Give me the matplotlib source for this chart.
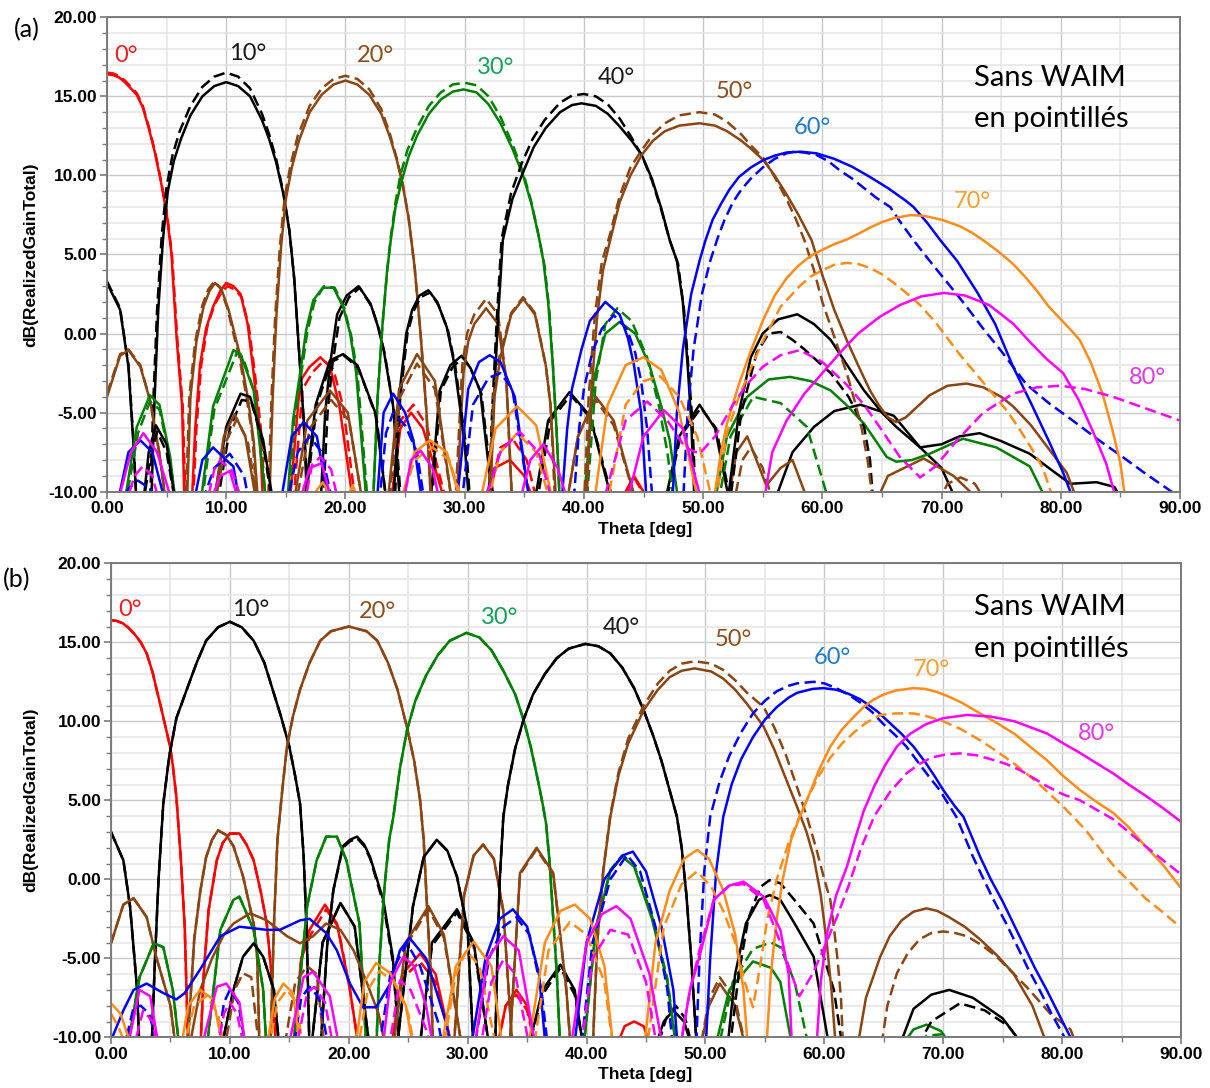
import matplotlib
matplotlib.use("Agg")
import matplotlib.pyplot as plt
from matplotlib.ticker import MultipleLocator, FormatStrFormatter

W, H = 1210, 1088

RED = "#ff0000"
BLACK = "#000000"
BROWN = "#8b4513"
GREEN = "#008000"
BLUE = "#0000ff"
ORANGE = "#ff8c1a"
MAGENTA = "#ff00ff"

STEER = ["0°", "10°", "20°", "30°", "40°", "50°", "60°", "70°", "80°"]
LINE_COLORS = [RED, BLACK, BROWN, GREEN, BLACK, BROWN, BLUE, ORANGE, MAGENTA]
LABEL_COLORS = ["#ee1c24", "#1a1a1a", "#8c4f1c", "#14a05a", "#1a1a1a",
                "#8c4f1c", "#1f7ac8", "#f5a030", "#e437e4"]

# ---- panel (a) : (theta deg, dB); -11 = below the axis ----
A00_S = [(0, 16.4), (0.5, 16.35), (1, 16.2), (1.5, 15.9), (2, 15.5), (2.5, 15.1), (3, 14.3), (3.5, 13), (4, 11.5), (4.5, 9.7), (5, 7.6), (5.4, 5.1), (5.85, -0.4), (6.3, -4.6), (6.5, -11),
         (7.1, -11), (7.4, -6), (7.8, -2), (8.3, 0.3), (8.9, 1.7), (9.5, 2.7), (10, 3.2), (10.6, 3.0), (11.2, 2.5), (11.8, 0.6), (12.3, -2.5), (12.8, -6), (13.1, -11),
         (15.3, -11), (16.2, -3), (17, -2.1), (17.9, -1.5), (18.7, -2.1), (19.5, -4.6), (20.7, -11),
         (23.8, -11), (24.6, -6), (25.5, -5.0), (26.5, -6), (28.5, -11),
         (31.5, -11), (32.5, -8.5), (33.8, -8.0), (35, -9), (36, -11),
         (42.8, -11), (44.2, -9.0), (45.8, -11)]
A00_D = [(0, 16.5), (0.5, 16.45), (1, 16.3), (1.5, 16), (2, 15.6), (2.5, 15.2), (3, 14.4), (3.5, 13.1), (4, 11.6), (4.5, 9.8), (5, 7.8), (5.45, 5), (5.9, -0.4), (6.35, -4.6), (6.6, -11),
         (7.2, -11), (7.5, -6), (7.9, -2), (8.4, 0.4), (9, 1.8), (9.6, 2.6), (10.1, 3.0), (10.7, 2.8), (11.3, 2.3), (11.9, 0.4), (12.4, -2.5), (12.9, -6), (13.3, -11),
         (15.6, -11), (16.4, -3.5), (17.3, -2.4), (18.2, -1.7), (19, -2.3), (19.8, -4.6), (20.9, -11),
         (23.8, -11), (24.6, -5.5), (25.7, -4.5), (26.8, -5.8), (28.6, -11),
         (31.8, -11), (33, -7.2), (34.1, -6.75), (35.2, -8), (36.2, -11),
         (43, -11), (44.3, -9.2), (45.6, -11)]
A10_S = [(0, 3.2), (1.1, 1.5), (1.8, -2.1), (2.2, -6.8), (2.5, -11),
         (3.7, -11), (4.0, -4), (4.3, 1.5), (4.7, 6), (5.1, 9), (5.6, 10.9), (6.2, 12.3), (7, 13.8), (8, 15), (9, 15.65), (10, 15.9), (11, 15.65), (12, 15.0), (13, 13.5), (13.6, 12.3), (14.2, 10.8), (14.8, 8.8), (15.3, 6.5), (15.7, 3.5), (16.1, -1), (16.5, -5.5), (16.8, -11),
         (17.9, -11), (18.3, -5), (18.7, -2), (19.3, 1.2), (20.1, 2.4), (21.1, 3.0), (22.1, 1.9), (22.7, 0.5), (23.2, -1), (24, -4.6), (24.6, -11),
         (27.1, -11), (27.9, -3.6), (28.8, -2), (29.75, -1.4), (30.5, -2.2), (31.3, -3.6), (32.4, -11),
         (35.8, -11), (37, -5.5), (38.8, -3.7), (40.5, -5.2), (42.5, -11),
         (46.7, -11), (48, -6.5), (49.7, -4.5), (51, -6), (52.3, -11),
         (55.8, -11), (57.5, -7.5), (59.3, -5.9), (61, -4.9), (63.2, -4.5), (66, -5.2), (68.2, -7.2), (70, -8.5), (71.5, -11)]
A10_D = [(0, 3.3), (1.1, 1.6), (1.8, -2), (2.2, -6.5), (2.5, -11),
         (3.6, -11), (3.9, -4), (4.2, 1.5), (4.6, 6.3), (5.0, 9.3), (5.5, 11.3), (6.1, 12.8), (7, 14.4), (8, 15.6), (9, 16.25), (10, 16.5), (11, 16.25), (12, 15.5), (13, 13.9), (13.6, 12.6), (14.2, 11), (14.8, 8.9), (15.3, 6.5), (15.7, 3.5), (16.1, -1), (16.5, -5.5), (16.9, -11),
         (18.1, -11), (18.5, -5), (18.9, -2), (19.5, 1), (20.3, 2.3), (21.2, 2.9), (22.2, 1.7), (22.8, 0.3), (23.3, -1.3), (24.1, -5), (24.7, -11),
         (27.2, -11), (28, -3.6), (29, -2.1), (29.9, -1.5), (30.6, -2.4), (31.4, -3.8), (32.5, -11),
         (36, -11), (37.2, -5.5), (38.9, -3.9), (40.6, -5.4), (42.6, -11),
         (46.8, -11), (48.1, -6.5), (49.8, -4.7), (51.1, -6), (52.4, -11)]
A20_S = [(0, -4.0), (1.1, -1.4), (1.8, -1.05), (2.8, -2.1), (3.6, -4.2), (4.4, -7.6), (5, -11),
         (6.7, -11), (7, -4), (7.5, -0.5), (8.1, 1.7), (8.6, 2.7), (9.06, 3.2), (9.6, 2.8), (10.2, 1.5), (10.7, 0), (11.2, -1.5), (11.8, -4), (12.3, -6.75), (12.7, -11),
         (13.6, -11), (13.9, -4), (14.2, 1), (14.6, 5.5), (15, 8.5), (15.5, 10.5), (16.1, 12.2), (17, 14), (18, 15.1), (19, 15.75), (20, 16.0), (21, 15.75), (22, 15.1), (23, 13.9), (23.7, 12.5), (24.3, 11), (24.8, 9.4), (25.3, 7.3), (25.8, 4.2), (26.3, 0), (26.8, -5), (27.2, -11),
         (29.3, -11), (29.9, -2.5), (30.3, -0.5), (30.8, 0.6), (31.8, 1.6), (32.8, 0.6), (33.5, -3), (34, -11),
         (38.5, -11), (39.5, -6.5), (41, -4.0), (42.5, -5.5), (44.5, -11),
         (52, -11), (52.8, -7.5), (53.7, -6.5), (55.3, -9.6), (56.5, -8.5), (57.5, -8), (59, -11),
         (64.3, -11), (65.5, -9), (68.5, -7.9), (71, -9), (73.8, -11)]
A20_D = [(0, -3.8), (1.1, -1.3), (1.8, -1.0), (2.8, -2.0), (3.6, -4.2), (4.4, -7.6), (5, -11),
         (6.6, -11), (6.9, -4), (7.4, -0.5), (8, 1.8), (8.5, 2.8), (9, 3.3), (9.5, 2.9), (10.1, 1.6), (10.6, 0), (11.1, -1.5), (11.7, -4), (12.2, -6.5), (12.6, -11),
         (13.5, -11), (13.8, -4), (14.1, 1), (14.5, 5.5), (14.9, 8.6), (15.4, 10.7), (16, 12.5), (17, 14.4), (18, 15.5), (19, 16.1), (20, 16.3), (21, 16.1), (22, 15.45), (23, 14.2), (23.7, 12.7), (24.3, 11.1), (24.8, 9.5), (25.3, 7.3), (25.8, 4.2), (26.3, 0), (26.8, -5), (27.2, -11),
         (29.2, -11), (29.8, -2), (30.2, 0), (30.8, 1.2), (31.8, 2.2), (32.8, 1.2), (33.5, -3), (34, -11),
         (38.5, -11), (39.5, -6.5), (41, -4.2), (42.5, -5.8), (44.5, -11),
         (52.5, -11), (53.3, -8), (54, -7.2), (55, -8.5), (56, -11)]
A30_S = [(1.4, -11), (2.5, -5.9), (3.6, -3.9), (4.4, -4.5), (5.3, -7.8), (5.8, -11),
         (7.8, -11), (8.9, -4.6), (10.6, -1.05), (11.2, -1.3), (12.3, -3.6), (13.4, -11),
         (15.1, -11), (15.6, -5.5), (16.2, -2.5), (16.7, 0.2), (17.3, 2.1), (18.1, 2.9), (19, 2.9), (19.8, 1.7), (20.4, 0), (20.9, -2.5), (21.8, -11),
         (22.3, -11), (22.7, -4), (23.1, 0.5), (23.5, 4), (23.8, 5.9), (24.2, 8), (24.7, 9.6), (25.3, 11.2), (26, 12.5), (27, 13.9), (28, 14.8), (29, 15.3), (29.9, 15.44), (31, 15.25), (32, 14.5), (33, 13.3), (34, 11.7), (34.9, 10), (35.6, 8.2), (36.2, 6.2), (36.6, 4.6), (37, 2), (37.4, -2), (37.7, -6), (38, -11),
         (40, -11), (40.8, -3), (41.8, 0), (43, 0.74), (44.3, 0), (45.5, -2), (46.5, -4.6), (47.2, -6.75), (48, -11),
         (50.9, -11), (52, -6.5), (53.7, -4.0), (55.5, -2.9), (57.3, -2.74), (59, -3), (60.7, -3.6), (62, -4.5), (63.5, -5.7), (65.4, -7.8), (66.2, -8.1), (67.5, -8), (69, -7.6), (71.8, -6.65), (74.6, -7.2), (77.4, -8.4), (79.1, -11)]
A30_D = [(1.5, -11), (2.6, -6.3), (3.6, -4.3), (4.4, -4.8), (5.3, -8), (5.8, -11),
         (7.9, -11), (9, -4.8), (10.9, -1.2), (11.4, -1.5), (12.4, -3.8), (13.4, -11),
         (15.2, -11), (15.7, -5.5), (16.3, -2.5), (16.8, 0.1), (17.4, 2), (18.2, 3.0), (19.1, 2.9), (19.9, 1.6), (20.5, -0.2), (21, -2.5), (21.9, -11),
         (22.3, -11), (22.7, -4), (23.1, 0.5), (23.5, 4), (23.8, 6.1), (24.2, 8.3), (24.6, 10), (25.2, 11.6), (26, 13), (27, 14.4), (28, 15.25), (29, 15.75), (30, 15.86), (31, 15.7), (32, 15), (33, 13.7), (34, 12), (34.9, 10.2), (35.6, 8.3), (36.2, 6.2), (36.7, 4.3), (37.1, 1.5), (37.4, -2), (37.7, -6), (38, -11),
         (40.2, -11), (41, -3), (41.8, 0.6), (42.8, 1.6), (44, 0.8), (45.3, -1.5), (46.3, -4.6), (47, -7.5), (47.6, -11),
         (51.2, -11), (52.3, -6.5), (54.2, -4.0), (56.5, -4.4), (58.7, -5.9), (60.7, -11)]
A40_S = [(3, -11), (3.5, -7.5), (4.1, -5.8), (5, -7), (5.8, -11),
         (8.9, -11), (10, -5.9), (11.2, -3.8), (12, -4.0), (13.1, -6.75), (14, -11),
         (16.5, -11), (17.5, -4.5), (18.7, -1.7), (19.8, -1.3), (21, -2), (22.5, -5), (23.5, -11),
         (24, -11), (24.5, -4), (25.1, 0), (25.6, 1.5), (26.2, 2.4), (26.95, 2.74), (27.7, 2), (28.5, 0.4), (29.1, -1.8), (29.6, -4.6), (30, -7), (30.4, -11),
         (32.1, -11), (32.4, -5), (32.8, 1), (33.2, 5.9), (34, 8.5), (34.9, 10.2), (35.8, 11.8), (36.8, 13), (38, 14), (39, 14.45), (39.8, 14.56), (41, 14.4), (42, 13.9), (43, 13.1), (44, 12.2), (44.85, 11.3), (45.7, 9.8), (46.5, 7.9), (47.2, 5.9), (47.8, 4.6), (48.3, 2), (48.7, -2), (49, -5.5), (49.3, -11),
         (52, -11), (53, -5), (54, -1.5), (55, 0), (56.3, 0.9), (57.9, 1.22), (59.3, 0.6), (60.7, -0.4), (62, -1.9), (63.5, -3.6), (65, -5), (66.2, -5.9), (68.2, -7.2), (70, -7), (71.5, -6.5), (73.2, -6.3), (75, -6.8), (77.4, -7.6), (79, -8.5), (80.8, -9.5), (83, -9.4), (84.5, -9.7), (85.5, -11)]
A40_D = [(3, -11), (3.6, -8), (4.2, -6.2), (5, -7.5), (5.8, -11),
         (9.2, -11), (10.3, -6), (11.3, -4.2), (12.1, -4.3), (13.1, -7), (13.9, -11),
         (16.6, -11), (17.6, -4.5), (18.8, -1.8), (19.9, -1.4), (21.1, -2.2), (22.6, -5.3), (23.5, -11),
         (24.1, -11), (24.6, -4), (25.2, 0), (25.7, 1.4), (26.3, 2.3), (27.1, 2.6), (27.8, 1.8), (28.6, 0.2), (29.2, -2), (29.7, -4.8), (30.1, -7), (30.5, -11),
         (32, -11), (32.3, -5), (32.7, 1), (33.1, 6), (33.9, 8.9), (34.8, 10.8), (35.7, 12.3), (36.7, 13.5), (38, 14.6), (39, 15.05), (40, 15.15), (41, 15), (42, 14.5), (43, 13.6), (44, 12.4), (44.9, 11.2), (45.7, 9.7), (46.5, 7.8), (47.2, 5.9), (47.9, 4.4), (48.4, 1.5), (48.8, -2.5), (49.1, -5.5), (49.4, -11),
         (52.2, -11), (53.2, -5), (54.5, -1.2), (55.5, 0), (56.5, 0.1), (57.5, -0.4), (58.5, -1), (60.7, -2.5), (62.2, -4), (63.5, -5.9), (64, -8), (64.3, -11)]
A50_S = [(8.9, -11), (9.8, -6.5), (10.7, -5.1), (11.6, -6.5), (12.6, -11),
         (15.6, -11), (16.8, -5.5), (18.7, -3.6), (20.2, -5), (21.5, -11),
         (23.5, -11), (24.5, -3.5), (26, -1.3), (27.5, -3), (29, -11),
         (32.1, -11), (32.5, -4), (33, -1.5), (33.9, 1.2), (34.9, 2.2), (35.9, 1.2), (36.8, -2), (37.2, -4.5), (37.7, -11),
         (40.2, -11), (40.6, -4), (41.1, 1), (41.6, 4), (42.2, 5.9), (43, 8.3), (43.9, 10), (44.85, 11.3), (45.8, 12.2), (46.8, 12.8), (48, 13.15), (49.7, 13.3), (51, 13.15), (52, 12.8), (53.2, 12.2), (54, 11.7), (55.05, 10.97), (56, 10), (57, 8.8), (58, 7.5), (59.1, 5.9), (60, 3.7), (61, 1.5), (62.05, -0.42), (63, -2), (64, -3.6), (64.8, -4.6), (65.5, -5.3), (66.2, -5.6), (67, -5.3), (68, -4.6), (69, -3.9), (70.5, -3.3), (72.1, -3.16), (73.5, -3.4), (75, -4), (76, -4.6), (77.5, -5.8), (79, -7.3), (80.5, -8.8), (81.6, -11)]
A50_D = [(9, -11), (10, -6.8), (10.9, -5.4), (11.8, -6.8), (12.7, -11),
         (15.8, -11), (17, -6), (18.8, -4.2), (20.3, -5.5), (21.5, -11),
         (23.6, -11), (24.6, -4), (26, -1.9), (27.5, -3.5), (29, -11),
         (32, -11), (32.4, -4), (32.9, -1.5), (33.9, 1.3), (34.9, 2.3), (35.9, 1.3), (36.8, -2), (37.2, -4.5), (37.6, -11),
         (40, -11), (40.4, -4), (40.9, 1), (41.5, 4.5), (42.2, 6.3), (43, 8.7), (43.9, 10.5), (44.85, 11.6), (45.8, 12.6), (46.8, 13.3), (48, 13.8), (49.7, 14.0), (51, 13.85), (52, 13.4), (53.2, 12.6), (54, 11.9), (55.05, 11.1), (56, 9.9), (57, 8.5), (57.8, 7.2), (58.5, 5.9), (59.3, 4), (60, 2), (61, -0.2), (62.05, -2.5), (62.8, -4.5), (63.3, -6), (63.8, -8), (64.3, -11),
         (69.5, -11), (70.5, -9.5), (71.6, -9.1), (72.8, -9.5), (74, -11)]
A60_S = [(0.8, -11), (1.8, -7.5), (2.8, -6.75), (3.8, -7.5), (5, -11),
         (7.2, -11), (8, -8), (8.9, -7.2), (10, -8), (10.6, -8.4), (11.2, -11),
         (14.5, -11), (15.5, -6.5), (16.5, -5.6), (17.6, -6.5), (18.7, -11),
         (22.6, -11), (23.2, -5), (24, -3.8), (25, -5), (25.7, -6.75), (26.5, -11),
         (29.3, -11), (30.3, -3.5), (31.2, -1.8), (32.1, -1.37), (33, -1.8), (34.2, -4), (35.5, -11),
         (38.1, -11), (38.6, -6), (39, -3.5), (39.8, -1), (40.5, 0.8), (41.8, 2.0), (43, 1.2), (43.7, -0.3), (44.2, -2), (44.8, -5), (45.3, -11),
         (47.4, -11), (47.8, -5), (48.3, -1), (49, 2.5), (49.7, 4.6), (50.2, 5.9), (50.8, 7.2), (51.5, 8.2), (52.2, 9.1), (53, 9.9), (54, 10.5), (55.05, 10.97), (56, 11.25), (57, 11.45), (58.2, 11.5), (59.5, 11.4), (61, 11.05), (62.5, 10.55), (64, 9.9), (65.5, 9.2), (67, 8.4), (67.65, 8.0), (68.8, 7), (69.9, 5.9), (71.3, 4.6), (73, 2.6), (74.5, 0.6), (76, -2.1), (77.5, -4.4), (79, -6.8), (80.2, -8.8), (80.8, -10), (81, -11)]
A60_D = [(0.8, -11), (1.8, -9.8), (2.6, -9.3), (3.6, -9.8), (4.5, -11),
         (7.8, -11), (9, -8.5), (10.3, -7.6), (11.5, -9), (12, -11),
         (15, -11), (16, -7.5), (17, -6.5), (18, -7.5), (19, -11),
         (22.8, -11), (23.4, -6.3), (24, -5), (25, -5.8), (26, -7.5), (26.7, -11),
         (29.7, -11), (30.7, -4.5), (32, -2.8), (33, -2.5), (34, -3.5), (35.5, -11),
         (39.1, -11), (39.6, -6), (40, -3.5), (40.7, -1.2), (41.5, 0.3), (42.5, 1.16), (43.6, 0.3), (44.3, -1.2), (44.8, -3), (45.3, -6), (45.8, -11),
         (48.3, -11), (48.7, -5), (49.2, -1), (49.9, 2.5), (50.6, 4.6), (51.2, 6), (51.8, 7.2), (52.5, 8.3), (53.2, 9.1), (54, 9.8), (55, 10.5), (56, 11.05), (57, 11.4), (57.6, 11.5), (58.5, 11.45), (59.5, 11.3), (60.5, 10.9), (61.5, 10.3), (62.5, 9.8), (63.5, 9.2), (64.5, 8.6), (65.7, 8.0), (66.5, 7.1), (67.65, 5.9), (69, 4.6), (70.4, 3.3), (72, 1.8), (73.5, 0.3), (75, -1.1), (77.1, -3.2), (79, -4.4), (81, -5.5), (83.3, -6.8), (85, -7.7), (87, -8.8), (89.3, -10), (90, -10.5)]
A70_S = [(16.5, -11), (18.1, -9.4), (19.3, -11), (19.8, -11), (20.6, -9.6), (21.4, -11),
         (24.5, -11), (25.8, -7.5), (27.1, -6.75), (28.5, -7.5), (29.8, -11),
         (31.2, -11), (32.6, -6), (34.4, -4.6), (36, -5.8), (37.5, -11),
         (40.8, -11), (42, -4.5), (43.5, -2), (45, -1.5), (46.5, -2.3), (48, -5), (49.7, -11),
         (50.8, -11), (51.5, -7.5), (52, -5.7), (53, -3.2), (54, -1.1), (55, 0.8), (56, 2.4), (57, 3.5), (58, 4.3), (59, 4.9), (60, 5.3), (61, 5.65), (62.05, 5.95), (63, 6.3), (64, 6.7), (65, 7.05), (66, 7.3), (67.4, 7.49), (68.5, 7.45), (70, 7.2), (71.5, 6.8), (72.5, 6.4), (73.5, 5.9), (74.75, 5.2), (76, 4.4), (77, 3.6), (78, 2.7), (79, 1.7), (80, 0.9), (81, 0.1), (81.6, -0.42), (82.5, -1.8), (83.5, -3.8), (84.3, -6), (85, -8.2), (85.5, -11)]
A70_D = [(24.5, -11), (25.8, -8), (27.3, -7.2), (28.7, -8), (30, -11),
         (31.8, -11), (33, -7.5), (34.4, -6.3), (36, -7.5), (37.3, -11),
         (41.9, -11), (43.5, -4.5), (45, -3), (46.4, -2.7), (48, -4), (49.5, -6.5), (50.9, -11),
         (51, -11), (51.5, -8.5), (52, -6.3), (53, -4), (54, -2.2), (55, -0.5), (56.5, 1.7), (58.1, 3), (59, 3.6), (60, 4.0), (61, 4.35), (62.05, 4.47), (63, 4.4), (64, 4.15), (65, 3.75), (66, 3.2), (67, 2.6), (68.2, 1.8), (69.5, 0.7), (70.5, -0.3), (71.5, -1.3), (72.5, -2.2), (73.5, -3.1), (74.5, -4.0), (75.5, -4.9), (76.5, -6), (77.5, -7.2), (78.5, -8.5), (79.6, -11)]
A80_S = [(0.8, -11), (2, -7.5), (3.05, -6.3), (4.2, -7.5), (5.6, -11),
         (8.5, -11), (9.5, -9), (10.3, -8.7), (11.2, -11),
         (16, -11), (17, -8.5), (18, -8.2), (19, -11),
         (24.8, -11), (25.5, -8), (26.3, -7.4), (27.3, -8.5), (28, -11),
         (34.5, -11), (35.5, -8), (36.6, -7), (37.8, -8.5), (38.8, -11),
         (43.5, -11), (45, -6.5), (46.7, -4.85), (48.3, -6), (50, -11),
         (55, -11), (55.8, -7.5), (57, -5.5), (58.5, -3.8), (60, -2.5), (61.5, -1.2), (63, 0), (64.8, 1.05), (66.5, 1.8), (68.3, 2.35), (70.2, 2.57), (72, 2.4), (74, 1.8), (76, 0.63), (77.5, -0.6), (78.8, -1.6), (80.2, -2.5), (81.5, -4.2), (82.7, -6.2), (83.8, -8.2), (84.85, -11)]
A80_D = [(1.5, -11), (2.3, -9), (3, -8.4), (3.8, -9), (4.5, -11),
         (8.3, -11), (9, -8.6), (9.5, -8), (10.5, -8.7), (11.5, -11),
         (16.5, -11), (17.2, -8.3), (17.9, -7.8), (18.8, -8.6), (19.5, -11),
         (31.5, -11), (33, -7.5), (34.6, -6.2), (36.2, -7.5), (37.5, -11),
         (41.5, -11), (43.5, -5.5), (45.3, -4.3), (47, -5.5), (48.5, -7.2), (49.7, -7.6), (51, -6.5), (52.5, -4.5), (53.7, -3.2), (55, -2.1), (56.5, -1.37), (58.1, -1.05), (60, -1.8), (62, -3.2), (63.5, -4.5), (64.8, -5.9), (66.5, -7.8), (68.2, -9.1), (69.5, -8.4), (71.3, -6.75), (73.5, -5), (76, -3.8), (78, -3.4), (79.9, -3.3), (82, -3.5), (84.4, -4.0), (87, -4.7), (90, -5.5)]

# ---- panel (b) ----
B00_S = [(0, 16.4), (0.5, 16.35), (1, 16.2), (1.5, 15.9), (2, 15.5), (2.5, 15.0), (3, 14.3), (3.5, 13.1), (3.84, 12.0), (4.2, 10.9), (4.6, 9.6), (4.97, 8.4), (5.2, 7.2), (5.5, 5.2), (5.9, 1), (6.2, -3), (6.5, -11),
         (7.5, -11), (7.8, -6), (8.2, -2), (8.9, 1.2), (9.4, 2.3), (10, 2.9), (10.8, 2.9), (11.4, 2.2), (12, 1.2), (12.6, -0.8), (13.1, -2.8), (13.5, -6), (13.9, -11),
         (15.3, -11), (16, -5), (16.7, -3.2), (18, -1.6), (19, -2.8), (20.1, -7), (20.9, -11),
         (23.5, -11), (24.5, -6), (26, -4.7), (27.3, -6), (28.8, -11),
         (32.4, -11), (33.2, -8), (34.1, -7.0), (35, -8), (35.8, -11),
         (42.3, -11), (43.2, -9.3), (44, -9.0), (44.8, -9.3), (45.6, -11)]
B00_D = [(0, 16.4), (0.5, 16.35), (1, 16.2), (1.5, 15.9), (2, 15.5), (2.5, 15.0), (3, 14.3), (3.5, 13.1), (3.84, 12.0), (4.2, 10.9), (4.6, 9.6), (4.97, 8.4), (5.2, 7.2), (5.5, 5.2), (5.9, 1), (6.2, -3), (6.5, -11),
         (7.5, -11), (7.8, -6), (8.2, -2), (8.9, 1.2), (9.4, 2.3), (10, 2.9), (10.8, 2.9), (11.4, 2.2), (12, 1.2), (12.6, -0.8), (13.1, -2.8), (13.5, -6), (13.9, -11),
         (15.3, -11), (16, -5), (16.8, -3.5), (18.1, -1.9), (19.1, -3), (20.1, -7), (20.9, -11),
         (23.5, -11), (24.5, -6.3), (26, -5.2), (27.3, -6.5), (28.8, -11),
         (32.4, -11), (33.2, -8), (34.1, -7.3), (35, -8.3), (35.8, -11)]
B10_S = [(0, 3.0), (1.04, 1.2), (1.6, -1.7), (2.2, -7), (2.4, -11),
         (3.4, -11), (3.7, -5), (4.0, 0), (4.4, 4.8), (4.9, 7.8), (5.5, 10.2), (6.37, 12.0), (7.2, 13.7), (8, 15.1), (9, 15.95), (10, 16.3), (11, 15.95), (12, 15.1), (12.9, 13.7), (13.6, 12.0), (14.3, 10.3), (15, 8.4), (15.5, 6.5), (15.9, 4.8), (16.2, 1.5), (16.45, -3), (16.7, -11),
         (17.6, -11), (18.2, -4), (18.7, -0.7), (19.5, 2.1), (20.1, 2.5), (20.7, 2.7), (21.3, 2.2), (21.8, 1.4), (22.9, -1.3), (23.7, -4.9), (24.3, -11),
         (25.9, -11), (27, -4), (29.1, -1.9), (30.5, -4), (31.9, -11),
         (35, -11), (36.3, -7), (37.8, -5.4), (39, -7), (39.8, -11),
         (45.6, -11), (46.5, -9), (47.3, -8.3), (48.2, -9), (49, -11)]
B10_D = [(0, 3.0), (1.04, 1.2), (1.6, -1.7), (2.2, -7), (2.4, -11),
         (3.4, -11), (3.7, -5), (4.0, 0), (4.4, 4.8), (4.9, 7.8), (5.5, 10.2), (6.37, 12.0), (7.2, 13.7), (8, 15.1), (9, 15.95), (10, 16.3), (11, 15.95), (12, 15.1), (12.9, 13.7), (13.6, 12.0), (14.3, 10.3), (15, 8.4), (15.5, 6.5), (15.9, 4.8), (16.2, 1.5), (16.45, -3), (16.7, -11),
         (17.6, -11), (18.2, -4), (18.7, -0.7), (19.5, 2.0), (20.1, 2.4), (20.7, 2.6), (21.3, 2.1), (21.8, 1.3), (22.9, -1.5), (23.7, -5.2), (24.3, -11),
         (25.9, -11), (27, -4.2), (29.1, -2.1), (30.5, -4.2), (31.9, -11),
         (35, -11), (36.3, -7.3), (37.8, -5.6), (39, -7.3), (39.8, -11),
         (45.8, -11), (46.7, -8.8), (47.5, -8.0), (48.3, -8.8), (49, -11)]
B20_S = [(0, -4.05), (1.04, -1.6), (1.9, -1.2), (3, -2.4), (3.8, -4.9), (5, -8), (5.5, -11),
         (6.4, -11), (7, -3.8), (7.5, -0.8), (8, 1.4), (8.5, 2.5), (9, 3.1), (9.7, 2.8), (10.3, 2.1), (11.1, 0.2), (12, -2.8), (12.3, -5), (12.5, -11),
         (13.4, -11), (13.7, -3), (14.0, 2.5), (14.4, 5.6), (14.8, 8.4), (15.3, 10.3), (15.9, 12.0), (16.7, 13.7), (17.6, 15.1), (18.5, 15.7), (20, 16.0), (21.5, 15.7), (22.4, 15.1), (23.3, 13.7), (24.1, 12.0), (24.9, 9.6), (25.5, 7.5), (26, 5), (26.3, 2.5), (26.6, -2), (26.9, -6), (27.1, -11),
         (28.8, -11), (29.7, -1), (30.5, 1.5), (31.3, 2.2), (32.2, 1.3), (33, -2), (33.8, -11),
         (49.5, -11), (50.3, -8), (51.2, -6.6), (52.5, -8), (53.5, -11)]
B20_D = [(0, -4.05), (1.04, -1.6), (1.9, -1.2), (3, -2.4), (3.8, -4.9), (5, -8), (5.5, -11),
         (6.4, -11), (7, -3.8), (7.5, -0.8), (8, 1.4), (8.5, 2.5), (9, 3.1), (9.7, 2.8), (10.3, 2.1), (11.1, 0.2), (12, -2.8), (12.3, -5), (12.5, -11),
         (13.4, -11), (13.7, -3), (14.0, 2.5), (14.4, 5.6), (14.8, 8.4), (15.3, 10.3), (15.9, 12.0), (16.7, 13.7), (17.6, 15.1), (18.5, 15.7), (20, 16.0), (21.5, 15.7), (22.4, 15.1), (23.3, 13.7), (24.1, 12.0), (24.9, 9.6), (25.5, 7.5), (26, 5), (26.3, 2.5), (26.6, -2), (26.9, -6), (27.1, -11),
         (28.8, -11), (29.7, -1), (30.5, 1.5), (31.3, 2.2), (32.2, 1.3), (33, -2), (33.8, -11),
         (49.5, -11), (50.3, -7.6), (51.2, -6.2), (52.5, -7.6), (53.5, -11)]
B30_S = [(1.3, -11), (2.4, -6.2), (3.6, -4.05), (4.4, -4.3), (5.2, -7), (5.8, -11),
         (8, -11), (9.2, -3.2), (10.3, -1.3), (10.8, -1.1), (12, -3.2), (12.8, -7), (13.1, -11),
         (15.3, -11), (16.5, -1.7), (17.3, 1.2), (18.1, 2.7), (19, 2.7), (19.8, 1.2), (20.9, -2.8), (21.5, -11),
         (22.3, -11), (22.6, -5), (23, -0.5), (23.4, 2.5), (23.75, 3.96), (24.3, 7), (24.9, 9.45), (25.6, 11.3), (26.5, 12.9), (27.5, 14.2), (28.5, 15.1), (29.9, 15.6), (31, 15.3), (32, 14.5), (33, 13.2), (34, 11.7), (34.7, 10.1), (35.3, 8.4), (35.9, 6.3), (36.3, 4.8), (36.6, 3.5), (36.9, 1), (37.2, -2.5), (37.5, -6), (37.8, -11),
         (39.7, -11), (40.8, -3), (42, 0.5), (43, 1.43), (44, 0.8), (45.5, -2.5), (46.8, -6.5), (47.6, -11),
         (50.7, -11), (52, -7), (54, -5.2), (55.5, -5.6), (56.3, -6.5), (57.4, -11),
         (66.1, -11), (67.5, -9.5), (68.6, -9.2), (69.8, -9.6), (71.1, -11)]
B30_D = [(1.3, -11), (2.4, -6.2), (3.6, -4.05), (4.4, -4.3), (5.2, -7), (5.8, -11),
         (8, -11), (9.2, -3.2), (10.3, -1.3), (10.8, -1.1), (12, -3.2), (12.8, -7), (13.1, -11),
         (15.3, -11), (16.5, -1.7), (17.3, 1.2), (18.1, 2.7), (19, 2.7), (19.8, 1.2), (20.9, -2.8), (21.5, -11),
         (22.3, -11), (22.6, -5), (23, -0.5), (23.4, 2.5), (23.75, 3.96), (24.3, 7), (24.9, 9.45), (25.6, 11.3), (26.5, 12.9), (27.5, 14.2), (28.5, 15.1), (29.9, 15.6), (31, 15.3), (32, 14.5), (33, 13.2), (34, 11.7), (34.7, 10.1), (35.3, 8.4), (35.9, 6.3), (36.3, 4.8), (36.6, 3.5), (36.9, 1), (37.2, -2.5), (37.5, -6), (37.8, -11),
         (39.7, -11), (40.8, -3), (42, 0.6), (43, 1.5), (44, 0.9), (45.5, -2.3), (46.8, -6.3), (47.6, -11),
         (51, -11), (52.3, -6.5), (54, -4.4), (55.5, -4), (56.3, -4.3), (57.5, -6.5), (58.8, -11),
         (67.5, -11), (68.6, -9.9), (70, -9.8), (71, -11)]
B40_S = [(9.2, -11), (10.3, -7), (11.1, -4.9), (12, -4.05), (12.8, -4.9), (13.7, -7), (14.2, -11),
         (16.8, -11), (17.8, -4), (19.3, -1.5), (20.5, -3), (21.8, -11),
         (24, -11), (25.4, -1.7), (26.3, 1.4), (27.4, 2.5), (28.3, 1.8), (29.1, 0.17), (30, -3.2), (30.5, -11),
         (32.3, -11), (32.5, -5), (32.7, 0), (33, 3.96), (33.4, 6), (34, 8.3), (34.7, 10.1), (35.5, 11.7), (36.5, 13), (37.5, 14), (38.5, 14.6), (39.9, 14.9), (41, 14.75), (42, 14.3), (43, 13.4), (44, 12.1), (44.8, 10.7), (45.6, 9.1), (46.3, 7.5), (47, 5.6), (47.6, 3.96), (48, 2), (48.4, -1), (48.8, -5), (49.3, -11),
         (51.8, -11), (52.5, -6), (53.4, -2.8), (54.5, -1.3), (55.4, -1), (56.3, -1.3), (57.5, -2.8), (59.1, -4.9), (60.5, -11),
         (66.1, -11), (67.5, -8.2), (69, -7.3), (70.5, -7.0), (72.5, -7.5), (75, -8.8), (77.2, -11)]
B40_D = [(9.2, -11), (10.3, -7), (11.1, -4.9), (12, -4.05), (12.8, -4.9), (13.7, -7), (14.2, -11),
         (16.8, -11), (17.8, -4), (19.3, -1.5), (20.5, -3), (21.8, -11),
         (24, -11), (25.4, -1.7), (26.3, 1.4), (27.4, 2.5), (28.3, 1.8), (29.1, 0.17), (30, -3.2), (30.5, -11),
         (32.3, -11), (32.5, -5), (32.7, 0), (33, 3.96), (33.4, 6), (34, 8.3), (34.7, 10.1), (35.5, 11.7), (36.5, 13), (37.5, 14), (38.5, 14.6), (39.9, 14.9), (41, 14.75), (42, 14.3), (43, 13.4), (44, 12.1), (44.8, 10.7), (45.6, 9.1), (46.3, 7.5), (47, 5.6), (47.6, 3.96), (48, 2), (48.4, -1), (48.8, -5), (49.3, -11),
         (52, -11), (52.8, -6), (53.6, -2.5), (54.6, -0.5), (55.4, -0.05), (56.3, -0.25), (57.7, -1.5), (59.1, -2.8), (60.8, -7), (61.6, -11),
         (67.5, -11), (69, -9), (71.4, -7.85), (73.5, -8.3), (75.5, -9.3), (77.2, -11)]
B50_S = [(6.5, -11), (7.5, -7), (8.5, -5), (9.5, -3.5), (10.3, -2.8), (11.7, -2.15), (13.1, -2.6), (14.8, -3.6), (15.9, -4.05), (17, -3.6), (18.1, -2.8), (19.3, -3.2), (20.4, -4.5), (21.5, -6.5), (22.5, -8.5), (23.2, -11),
         (23.7, -11), (24.8, -4), (26.7, -1.7), (28, -3.5), (29.6, -11),
         (33.5, -11), (34.4, 0.4), (35.8, 2.0), (37.2, 0.4), (38.3, -7), (38.7, -11),
         (40.5, -11), (40.9, -4), (41.4, 0.5), (42, 3.96), (42.7, 6.6), (43.5, 8.6), (44.8, 10.7), (46, 12), (47, 12.8), (48, 13.2), (49.1, 13.35), (50.5, 13.15), (51.5, 12.7), (52.5, 12.0), (53.5, 11.1), (54.9, 9.66), (55.8, 8.2), (56.8, 6.3), (57.7, 4.6), (58.5, 3), (59.1, 1.43), (59.7, -1), (60.2, -4), (60.6, -7), (61, -11),
         (62.7, -11), (63.5, -7.5), (64.7, -4.9), (65.5, -3.6), (66.5, -2.6), (67.5, -2.05), (68.6, -1.84), (69.5, -2), (70.5, -2.4), (71.8, -3), (73.1, -3.8), (74.5, -4.8), (75.9, -5.95), (77.5, -8), (79, -11)]
B50_D = [(9.5, -11), (10.4, -7), (11.1, -5.95), (11.8, -6.2), (12.5, -11),
         (14.5, -11), (15.5, -6.5), (16.5, -5.5), (17.3, -6), (18, -11),
         (23.7, -11), (24.8, -4.2), (26.7, -1.9), (28, -3.7), (29.6, -11),
         (33.5, -11), (34.4, 0.3), (35.8, 1.9), (37.2, 0.3), (38.3, -7), (38.7, -11),
         (40.5, -11), (40.9, -4), (41.4, 0.5), (42, 4.1), (42.7, 6.8), (43.5, 8.9), (44.8, 11.0), (46, 12.4), (47, 13.2), (48, 13.65), (49.1, 13.8), (50.5, 13.65), (51.5, 13.25), (52.5, 12.6), (53.5, 11.8), (54.9, 10.9), (55.8, 9.6), (56.8, 7.8), (57.9, 5.4), (58.6, 3.8), (59.3, 2), (60, 0), (60.5, -1.3), (60.8, -3), (61.1, -5), (61.4, -7.5), (61.6, -11),
         (64.7, -11), (65.3, -8), (66.1, -5.95), (67, -4.7), (68, -3.8), (69, -3.4), (70, -3.3), (71, -3.4), (72, -3.6), (73.3, -4.2), (74.5, -4.9), (77, -6.8), (79, -8.5), (80.7, -9.5), (81.5, -11)]
B60_S = [(0, -10.2), (1.04, -8.3), (1.9, -7.0), (3, -6.6), (4.4, -7.2), (5.5, -7.6), (6.2, -7.2), (7.5, -5.7), (9.2, -3.6), (10.8, -3.0), (13.1, -3.2), (14.2, -3.2), (15.9, -2.6), (16.7, -2.5), (18.1, -3.4), (19, -4.5), (20.1, -6.6), (21.2, -8.1), (22.3, -8.1), (23.5, -6.6), (24.3, -4.5), (25.1, -3.7), (26.5, -5), (28.2, -9.1), (28.7, -11),
         (30.2, -11), (31.5, -5), (32.7, -2.5), (33.8, -1.9), (35, -3), (36, -6), (36.6, -11),
         (38.9, -11), (40, -4), (41.5, 0), (43, 1.5), (43.9, 1.75), (45, 0.5), (46.3, -3), (47.3, -7.0), (47.7, -11),
         (50, -11), (50.4, -5), (50.9, 0.5), (51.5, 3.96), (52.2, 6), (53, 7.6), (54, 9), (55, 10.1), (56, 10.9), (57, 11.5), (57.7, 11.8), (59, 12.05), (59.9, 12.1), (61, 12), (62, 11.75), (63, 11.4), (63.6, 11.1), (64.5, 10.6), (65.5, 9.9), (66.5, 9.2), (67.5, 8.4), (68.5, 7.4), (69.3, 6.5), (70, 5.65), (71, 4.6), (71.7, 3.96), (72.4, 2.7), (73.1, 1.43), (74, 0), (75, -1.4), (75.9, -2.8), (76.8, -4.2), (77.7, -5.6), (78.7, -7.0), (79.7, -8.5), (80.7, -10), (81, -11)]
B60_D = [(1, -11), (1.9, -8.1), (2.5, -8), (3.2, -8.5), (4.1, -11),
         (8.9, -11), (9.5, -7.8), (10, -7), (10.7, -7.8), (11.4, -11),
         (15.3, -11), (16, -7.5), (16.7, -6.8), (17.5, -7.5), (18.4, -11),
         (22.5, -11), (23.5, -6), (24.9, -4.05), (26, -5.5), (27.5, -9), (28, -11),
         (30.5, -11), (31.8, -5), (33, -3), (34.1, -2.4), (35.2, -3.5), (36.2, -7), (36.8, -11),
         (39.5, -11), (40.5, -4), (42, 0), (43.4, 1.54), (44.5, 0.5), (45.8, -3), (46.8, -7), (47.3, -11),
         (49.2, -11), (49.5, -5), (49.9, 0.5), (50.4, 3.96), (51.2, 6.2), (52, 7.8), (53, 9.3), (54, 10.5), (55, 11.3), (56, 11.9), (57, 12.25), (57.7, 12.4), (59.1, 12.5), (60, 12.4), (61, 12.1), (62, 11.7), (63, 11.2), (64, 10.6), (65, 9.8), (66, 9.1), (66.9, 8.4), (67.8, 7.5), (68.8, 6.5), (69.7, 5.65), (70.4, 4.8), (71.1, 3.96), (71.8, 2.7), (72.5, 1.43), (73.4, 0), (74.3, -1.4), (75.3, -2.8), (76.2, -4.2), (77.1, -5.6), (78.1, -7.0), (79.1, -8.5), (80.2, -10), (80.5, -11)]
B70_S = [(0, -7.85), (0.8, -8.5), (1.9, -11),
         (5.8, -11), (6.5, -8), (7.5, -7), (8.6, -7.6), (9.5, -11),
         (13, -11), (13.8, -7.5), (14.5, -6.6), (15.3, -7.2), (16, -11),
         (20.5, -11), (21.3, -6.5), (22.3, -5.3), (23.5, -5.95), (24.8, -8), (25.5, -11),
         (27.7, -11), (29, -5.5), (30.5, -3.95), (32, -5.5), (33, -11),
         (35, -11), (36.5, -4), (37.8, -2), (39, -1.6), (40.3, -2.5), (41.5, -5.5), (42.3, -11),
         (44.8, -11), (45.8, -4), (47, -0.7), (48.2, 1.3), (49.3, 1.86), (50.3, 1.3), (51.5, -0.7), (52.5, -3.5), (53.2, -7), (53.6, -11),
         (55.1, -11), (55.5, -6), (56, -2.5), (56.5, 0), (57.2, 2.5), (57.9, 3.9), (58.8, 5.5), (59.6, 7), (60.5, 8.4), (61.5, 9.5), (62.5, 10.3), (63.3, 10.9), (64.1, 11.35), (65, 11.7), (66, 11.95), (67.5, 12.1), (68.5, 12.05), (69.5, 11.85), (70.5, 11.55), (71.5, 11.2), (72.3, 10.85), (73.1, 10.5), (74.5, 9.9), (76, 9.2), (77.3, 8.4), (78.7, 7.55), (80, 6.6), (81.5, 5.65), (82.9, 4.9), (84.3, 4.2), (85.6, 3.3), (87, 2.1), (88.5, 0.9), (89.9, -0.46)]
B70_D = [(0, -8.5), (0.6, -9.3), (1.5, -11),
         (6, -11), (7, -8), (8, -7.4), (9, -8.5), (9.6, -11),
         (13.2, -11), (14, -7.8), (14.8, -7), (15.6, -7.8), (16.2, -11),
         (20.7, -11), (21.6, -7), (22.6, -5.8), (23.8, -6.5), (25, -8.5), (25.6, -11),
         (27.9, -11), (29, -6), (29.9, -4.5), (31, -5.5), (32.5, -11),
         (35.5, -11), (36.8, -4.5), (38.6, -2.7), (40, -3.5), (41.5, -6.5), (42.3, -11),
         (45, -11), (46.5, -3), (48, -0.3), (49.3, 0.5), (50.5, -0.5), (51.5, -2), (52.5, -4), (53.3, -6.5), (54, -8.1), (54.6, -5.5), (55.2, -2.5), (56, 0), (57, 2.3), (57.9, 3.96), (58.7, 5.3), (59.5, 6.5), (60.5, 7.7), (61.5, 8.6), (62.5, 9.3), (63.5, 9.9), (64.7, 10.4), (66, 10.5), (67.5, 10.5), (68.5, 10.35), (70, 10), (71.5, 9.5), (73.1, 8.8), (74.5, 8.1), (76, 7.3), (77, 6.7), (78.1, 6.0), (79.1, 5.3), (80.1, 4.6), (81, 3.9), (82, 3.1), (83.2, 1.9), (84.4, 0.8), (85.6, -0.1), (87, -1.2), (88.5, -2.1), (89.9, -3.0)]
B80_S = [(1.3, -11), (2.4, -7), (3.3, -7.4), (4.1, -11),
         (7.5, -11), (8.9, -6.8), (9.7, -6.6), (10.8, -7.8), (11.4, -11),
         (14.8, -11), (16.2, -6.2), (17, -5.85), (18.4, -7.4), (19.3, -11),
         (22.8, -11), (23.5, -6.5), (24.6, -4.9), (25.5, -5.5), (26.5, -8), (27.2, -11),
         (30.5, -11), (31.7, -5), (33, -3.6), (34.3, -4.5), (35.8, -11),
         (38.6, -11), (40, -4), (41.3, -2.2), (42.5, -1.7), (43.7, -2.5), (45.3, -6), (46.5, -11),
         (47.8, -11), (48.7, -7), (49.5, -4.9), (50.7, -1.3), (52, -0.4), (53.2, -0.15), (54.9, -1.1), (56.3, -3.2), (57, -6), (57.3, -11),
         (59.3, -11), (59.7, -6.5), (60.2, -3.5), (61, -1), (61.9, 0.8), (62.6, 2.6), (63.3, 4.3), (64.2, 5.9), (65.1, 7.2), (66.1, 8.4), (67.2, 9.2), (68.5, 9.8), (70, 10.2), (72, 10.4), (74, 10.3), (76, 10), (78.7, 9.24), (80, 8.65), (81.5, 8), (83, 7.3), (84.3, 6.7), (85.6, 6), (87, 5.3), (88.5, 4.5), (89.9, 3.7)]
B80_D = [(1.8, -11), (2.7, -8.3), (3.5, -9), (4, -11),
         (8.9, -11), (9.5, -8.5), (10, -7.8), (10.6, -8.5), (11.3, -11),
         (15.5, -11), (16.5, -7.2), (17.1, -6.8), (18, -7.8), (18.8, -11),
         (23.3, -11), (24.3, -6.4), (25.2, -7), (26.5, -9.5), (27, -11),
         (31, -11), (32, -6.5), (33, -5.1), (34, -6), (35.3, -11),
         (39.5, -11), (40.5, -5), (42, -3.2), (43.5, -3.5), (45, -6.5), (46, -11),
         (47.8, -11), (48.7, -7), (49.5, -4.5), (50.7, -1.3), (52, -0.4), (53.2, -0.3), (54.9, -1.3), (56.3, -4), (57.9, -7.4), (59, -6), (60, -4.3), (61, -2.5), (62, -0.5), (63.1, 2), (64.2, 4.0), (65.5, 5.5), (66.9, 6.7), (68, 7.3), (69, 7.7), (70.2, 7.9), (71.4, 7.97), (72.8, 7.85), (74, 7.6), (75.3, 7.3), (76.5, 6.9), (77.6, 6.4), (78.7, 5.9), (80, 5.4), (81.5, 5.0), (82.9, 4.4), (84.3, 3.8), (85.6, 3), (87, 2.1), (88.5, 1.2), (89.9, 0.38)]

PANEL_A = [(A00_S, A00_D), (A10_S, A10_D), (A20_S, A20_D), (A30_S, A30_D), (A40_S, A40_D),
           (A50_S, A50_D), (A60_S, A60_D), (A70_S, A70_D), (A80_S, A80_D)]
PANEL_B = [(B00_S, B00_D), (B10_S, B10_D), (B20_S, B20_D), (B30_S, B30_D), (B40_S, B40_D),
           (B50_S, B50_D), (B60_S, B60_D), (B70_S, B70_D), (B80_S, B80_D)]

# label centres in pixels (x, y from top)
LABEL_XY_A = [(126, 56), (248, 54), (375, 55), (496, 68), (616, 77), (734, 91), (812, 128), (972, 202), (1147, 378)]
LABEL_XY_B = [(130, 610), (251, 609), (377, 611), (500, 617), (621, 628), (733, 639), (832, 658), (931, 670), (1096, 733)]

TICK_FONT = "Liberation Sans"
NOTE_FONT = "Lato"


def px(x, y):
    return x / W, 1 - y / H


def style_axes(ax):
    ax.set_xlim(0, 90)
    ax.set_ylim(-10, 20)
    ax.xaxis.set_major_locator(MultipleLocator(10))
    ax.xaxis.set_minor_locator(MultipleLocator(5))
    ax.yaxis.set_major_locator(MultipleLocator(5))
    ax.yaxis.set_minor_locator(MultipleLocator(1))
    ax.xaxis.set_major_formatter(FormatStrFormatter("%.2f"))
    ax.yaxis.set_major_formatter(FormatStrFormatter("%.2f"))
    ax.grid(which="major", color="#c9c9c9", lw=1.0)
    ax.grid(which="minor", color="#e4e4e4", lw=1.1)
    ax.set_axisbelow(True)
    for s in ax.spines.values():
        s.set_color("#7a7a7a")
        s.set_linewidth(1.4)
    ax.tick_params(which="major", length=5, width=1.2, color="#7a7a7a", pad=2,
                   labelsize=12.5)
    ax.tick_params(which="minor", length=3.5, width=1.0, color="#7a7a7a")
    for lab in ax.get_xticklabels() + ax.get_yticklabels():
        lab.set_fontfamily(TICK_FONT)
        lab.set_fontweight("bold")


def draw_panel(ax, curves):
    for (solid, dashed), color in zip(curves, LINE_COLORS):
        th, g = zip(*solid)
        ax.plot(th, g, color=color, lw=1.8, solid_joinstyle="round")
        th, g = zip(*dashed)
        ax.plot(th, g, color=color, lw=1.8, ls=(0, (4.5, 2.2)))


fig = plt.figure(figsize=(W / 100, H / 100), dpi=100, facecolor="white")
ax_a = fig.add_axes([107 / W, 1 - 491.7 / H, 1073 / W, 474.4 / H])
ax_b = fig.add_axes([111 / W, 1 - 1037.3 / H, 1070 / W, 474 / H])

for ax, curves, labels_xy, tag, tag_xy, yc, xl_y in (
        (ax_a, PANEL_A, LABEL_XY_A, "(a)", (27, 30), 255, 530),
        (ax_b, PANEL_B, LABEL_XY_B, "(b)", (17, 580), 800, 1075)):
    style_axes(ax)
    draw_panel(ax, curves)
    fig.text(*px(645, xl_y), "Theta [deg]", ha="center", va="center",
             family=TICK_FONT, weight="bold", fontsize=12.5)
    fig.text(*px(31, yc), "dB(RealizedGainTotal)", ha="center", va="center",
             rotation=90, family=TICK_FONT, weight="bold", fontsize=12.5)
    fig.text(*px(*tag_xy), tag, ha="center", va="center", family=NOTE_FONT, fontsize=18)
    for name, col, (x, y) in zip(STEER, LABEL_COLORS, labels_xy):
        fig.text(*px(x, y), name, ha="center", va="center", color=col,
                 family=NOTE_FONT, fontsize=17)

fig.text(*px(1050, 78), "Sans WAIM", ha="center", va="center", family=NOTE_FONT, fontsize=21)
fig.text(*px(1051, 119), "en pointillés", ha="center", va="center", family=NOTE_FONT, fontsize=21)
fig.text(*px(1050, 607), "Sans WAIM", ha="center", va="center", family=NOTE_FONT, fontsize=21)
fig.text(*px(1051, 649), "en pointillés", ha="center", va="center", family=NOTE_FONT, fontsize=21)

fig.savefig("out.png", dpi=100, facecolor="white")
